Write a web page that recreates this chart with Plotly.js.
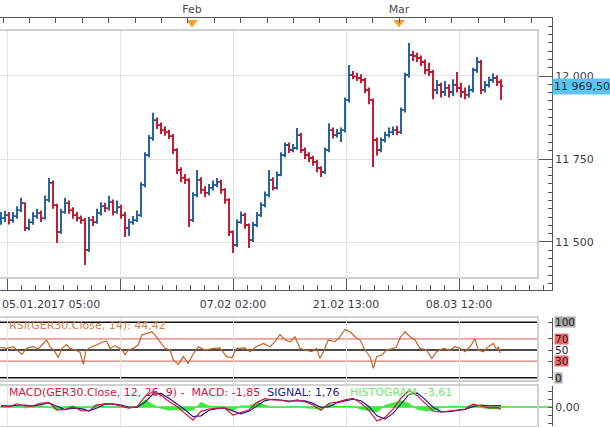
<!DOCTYPE html>
<html><head><meta charset="utf-8">
<script src="https://cdn.plot.ly/plotly-3.0.1.min.js"></script>
<style>html,body{margin:0;padding:0;background:#fff;}#chart{width:610px;height:427px;}</style>
</head><body><div id="chart"></div>
<script>
// ---- price bars (GER30, one bar per index) ----
const open = [11565,11572,11581,11566,11578,11596,11617,11542,11560,11578,
11587,11572,11627,11678,11611,11530,11590,11617,11596,11581,
11572,11566,11476,11566,11560,11587,11608,11602,11620,11590,
11605,11581,11542,11560,11566,11581,11672,11762,11813,11867,
11852,11837,11831,11819,11777,11717,11693,11687,11566,11642,
11687,11657,11648,11663,11672,11681,11657,11627,11530,11491,
11560,11581,11551,11506,11551,11581,11611,11642,11687,11663,
11702,11762,11792,11777,11783,11822,11777,11762,11753,11741,
11723,11711,11777,11837,11822,11828,11837,11928,12003,11998,
11994,11988,11958,11928,11807,11777,11807,11822,11831,11837,
11831,11898,12003,12063,12060,12054,12042,12018,12012,11958,
11973,11952,11964,11952,11973,11964,11952,11943,11958,12018,
12042,11958,11973,11988,11994,11982];
const high = [11590,11594,11590,11590,11608,11633,11620,11570,11590,11600,
11595,11640,11693,11685,11615,11600,11633,11625,11605,11590,
11580,11572,11575,11578,11600,11620,11618,11639,11628,11625,
11612,11590,11570,11578,11595,11680,11770,11822,11889,11875,
11860,11848,11838,11825,11782,11725,11705,11692,11650,11717,
11695,11668,11675,11685,11693,11688,11662,11632,11535,11568,
11592,11588,11556,11560,11590,11620,11652,11717,11695,11712,
11770,11800,11800,11795,11843,11828,11785,11770,11760,11748,
11728,11785,11858,11845,11840,11845,11935,12033,12015,12010,
12005,11995,11965,11932,11815,11815,11832,11845,11848,11850,
11905,12010,12099,12075,12070,12062,12050,12040,12018,11988,
11980,11985,11975,11990,12012,11980,11965,11972,12025,12057,
12048,11985,11998,12008,12002,11990];
const low = [11552,11560,11553,11558,11570,11590,11533,11535,11552,11570,
11560,11568,11620,11600,11497,11525,11585,11585,11570,11562,
11555,11431,11470,11548,11555,11580,11590,11595,11580,11585,
11570,11515,11518,11552,11560,11575,11665,11755,11805,11840,
11825,11820,11810,11765,11705,11680,11675,11545,11560,11635,
11645,11635,11640,11655,11665,11645,11615,11518,11467,11485,
11555,11540,11482,11500,11545,11575,11605,11635,11655,11658,
11698,11755,11768,11770,11778,11768,11750,11740,11730,11710,
11696,11705,11770,11812,11815,11801,11830,11920,11990,11985,
11978,11948,11915,11726,11760,11770,11800,11815,11822,11822,
11825,11890,11995,12045,12042,12030,12005,12000,11930,11945,
11935,11940,11935,11940,11950,11935,11930,11935,11950,12010,
11945,11950,11965,11980,11970,11928];
const close = [11572,11581,11566,11578,11596,11617,11542,11560,11578,11587,
11572,11627,11678,11611,11530,11590,11617,11596,11581,11572,
11566,11476,11566,11560,11587,11608,11602,11620,11590,11605,
11581,11542,11560,11566,11581,11672,11762,11813,11867,11852,
11837,11831,11819,11777,11717,11693,11687,11566,11642,11687,
11657,11648,11663,11672,11681,11657,11627,11530,11491,11560,
11581,11551,11506,11551,11581,11611,11642,11687,11663,11702,
11762,11792,11777,11783,11822,11777,11762,11753,11741,11723,
11711,11777,11837,11822,11828,11837,11928,12003,11998,11994,
11988,11958,11928,11807,11777,11807,11822,11831,11837,11831,
11898,12003,12063,12060,12054,12042,12018,12012,11958,11973,
11952,11964,11952,11973,11964,11952,11943,11958,12018,12042,
11958,11973,11988,11994,11982,11969.5];
const barIdx = close.map((_, i) => i);

// ---- RSI(14) ----
const rsiIdx = [-0.25,1.4,3.1,4.3,5.2,6.4,8.1,9.3,10.2,11.4,12.25,13.5,14.3,15.2,16.4,17.25,18.5,19.75,20.6,21.25,
22.7,23.9,25.2,26.4,27.25,28.5,29.75,30.6,31,31.8,33.1,34.3,35.2,36.4,37.7,38.5,39.75,41,42.25,43.1,
44.3,45.6,46.8,47.9,49.3,51,53.1,54.75,56.4,57.7,58.9,61,62.25,63.75,65.6,67.25,68.5,69.75,71,72.25,
73.5,74.75,76,77.7,78.9,79.75,80.6,81.8,83.5,84.75,86,87.25,88.5,89.75,91,92.25,93.1,93.9,95.2,96.4,
98.1,98.9,99.75,101,102.25,103.5,104.75,106.4,107.7,108.9,110.6,112.25,113.5,114.75,116,117.25,118.5,119.3,120.6,121.8,
123.1,123.9,124.3,124.75];
const rsiVal = [55,53,56,47,42,53,56,52,59,68,56,47,36,53,60,53,50,46,24,50,
56,59,64,66,53,58,53,47,41,50,53,59,77,80,83,77,65,53,50,32,
24,38,26,41,56,50,53,54,38,36,53,54,47,56,62,56,65,78,68,65,
74,53,50,47,53,35,47,68,65,74,87,83,74,68,50,38,17,38,41,50,
53,56,72,83,74,68,53,50,35,47,53,50,56,53,47,56,70,50,47,56,
62,50,56,44.42];
const rsiLevels = [0, 30, 50, 70, 100];

// ---- MACD(12,26,9) ----
const macdIdx = [0,2,4,6,8,10,12,14,16,18,20,22,24,26,28,30,32,34,36,38,
40,42,44,46,48,50,52,54,56,58,60,62,64,66,68,70,72,74,76,78,
80,82,84,86,88,90,92,94,96,98,100,102,104,106,108,110,112,114,116,118,
120,122,124,125];
const macdVal = [1.4,0.5,4,1,1.5,5,5.5,-3.5,-3,0.4,-4.5,-5,2.5,4.2,3.5,1,-1.3,0.4,13,19,
15,7,0.5,-8,-16.5,-5.5,-2.5,-1.5,-1.5,-10,-7,-3.5,5.8,10.5,8.8,8.5,6.5,8.8,6.5,2.5,
-4,4.7,6.2,9,10.8,4.8,-4.5,-17.5,-13,-3,11,20.5,14.5,4.5,-5,-6.5,-5.2,-3.2,-2.5,3.5,
1.5,-1,-0.8,-1.85];
const signalVal = [1.6,1.0,2.2,2.5,1.2,3.2,5.2,1,-3.2,-1.3,-2,-4.8,-1.2,3.4,3.9,2.3,0,-0.5,6,16,
17,11,4,-3.5,-12,-11,-4,-2,-1.5,-5.5,-8.5,-5.2,1,8,9.7,8.7,7.5,7.6,7.6,4.5,
-0.6,0.4,5.4,7.6,9.9,7.8,0.3,-11,-15.2,-8,4,15.7,17.5,9.5,-0.2,-5.7,-5.8,-4.2,-2.9,0.5,
2.5,1.5,1.6,1.76];
const histVal = [-0.2,-0.5,1.8,-1.5,0.3,1.8,0.3,-4.5,0.2,1.7,-2.5,-0.2,3.7,0.8,-0.4,-1.3,-1.3,0.9,9,3,
-2,-4,-3.5,-4.5,-4.5,6,1.5,0.5,0,-4.5,1.5,1.7,6,2.5,-0.9,-0.2,-1,1.2,-1.1,-2,
-3.4,4.3,0.8,1.4,0.9,-3,-4.8,-6.5,2.2,5,8,4.8,-3,-5,-4.8,-0.8,0.6,1,0.4,3,
-1,-2.5,-2.4,-3.61];
const macdTicks = [-20, -10, 0, 10, 20];
const macdTickText = ['', '', '0,00', '', ''];

// ---- axis labels ----
const gridIdx = [1.5, 29.75, 58, 86.25, 114.5];
const gridLabels = ['', '', '07.02 02:00', '21.02 13:00', '08.03 12:00'];
const firstLabel = '05.01.2017 05:00';
const monthIdx = [47.75, 99.5];
const monthLabels = ['Feb', 'Mar'];
const priceTicks = [11500, 11750, 12000];

// ---- layout helpers (pixels -> paper) ----
const W = 610, H = 427;
const px = v => v / W, py = v => 1 - v / H;
const FONT = 'DejaVu Sans';
const ptsPerPx = 500 / 166;
const frameY = [11355.4, 12174.7];
const boxY = [11394.6, 12135.5];
const xBox = [-0.25, 134.0];
const xFrame = [-0.25, 137.75];
const rsiRange = [-4.1, 107.8];
const macdRange = [-23.75, 26.25];
const axisCol = '#555';
const borderCol = '#d0d0d0';
const gridCol = '#e3e3e3';
const txtCol = '#3c3c48';

const last = close[close.length - 1];
const fmt = v => { const p = v.toFixed(2).split('.'); return p[0].replace(/\B(?=(\d{3})+(?!\d))/g, ' ') + ',' + p[1]; };
const rsiLast = rsiVal[rsiVal.length - 1];
const fmt2 = v => v.toFixed(2).replace('.', ',');

const traces = [
  {type:'scatter', x:[xFrame[0]], y:[frameY[0]], xaxis:'x', yaxis:'y', mode:'markers', marker:{opacity:0}, hoverinfo:'skip'},
  {type:'scatter', x:monthIdx, y:monthIdx.map(() => frameY[1] - 4.5 * ptsPerPx), xaxis:'x2', yaxis:'y', mode:'markers',
   marker:{symbol:'triangle-down', size:10, color:'#f2a22c'}, cliponaxis:false, hoverinfo:'skip'},
  {type:'ohlc', x:barIdx, open:open, high:high, low:low, close:close, xaxis:'x3', yaxis:'y3', tickwidth:0.5,
   line:{width:1.9}, increasing:{line:{color:'#1f5c9e', width:1.9}}, decreasing:{line:{color:'#c2142c', width:1.9}}, hoverinfo:'skip'},
  {type:'scatter', x:rsiIdx, y:rsiVal, xaxis:'x4', yaxis:'y4', mode:'lines', line:{color:'#c0652a', width:1.2}, hoverinfo:'skip'},
  {type:'scatter', x:[rsiIdx[0]], y:[rsiLevels[0]], xaxis:'x4', yaxis:'y5', mode:'markers', marker:{opacity:0}, hoverinfo:'skip'},
  {type:'scatter', x:macdIdx, y:histVal, xaxis:'x5', yaxis:'y6', mode:'lines', fill:'tozeroy', fillcolor:'#3bea3b',
   line:{color:'#3bea3b', width:0.5}, hoverinfo:'skip'},
  {type:'scatter', x:macdIdx, y:signalVal, xaxis:'x5', yaxis:'y6', mode:'lines', line:{color:'#1c1c8c', width:1.2}, hoverinfo:'skip'},
  {type:'scatter', x:macdIdx, y:macdVal, xaxis:'x5', yaxis:'y6', mode:'lines', line:{color:'#d4143c', width:1.2}, hoverinfo:'skip'},
  {type:'scatter', x:[macdIdx[0]], y:[macdTicks[2]], xaxis:'x5', yaxis:'y7', mode:'markers', marker:{opacity:0}, hoverinfo:'skip'}
];

const innerX = (anchor) => ({domain:[0, px(537)], range:xBox, anchor:anchor, showline:true, mirror:true, linecolor:borderCol, linewidth:2,
  tickmode:'array', tickvals:gridIdx, showticklabels:false, ticks:'', showgrid:true, gridcolor:gridCol, zeroline:false, fixedrange:true});

const rsiLabelBg = {0:'#a9a9a9', 30:'#ee6a6a', 50:'rgba(0,0,0,0)', 70:'#ee6a6a', 100:'#a9a9a9'};
const rsiLineCol = {0:'#111', 30:'#d85a50', 50:'#111', 70:'#d85a50', 100:'#111'};

const shapes = rsiLevels.map(l => ({type:'line', xref:'x4 domain', x0:0, x1:1, yref:'y4', y0:l, y1:l,
  line:{color:rsiLineCol[l], width:(l % 50 === 0) ? 1.5 : 1}, layer:'below'}));
shapes.push({type:'line', xref:'paper', x0:0, x1:px(552), yref:'y6', y0:macdTicks[2], y1:macdTicks[2], line:{color:'#3bdc3b', width:1.5}, layer:'below'});

const annotations = [
  {xref:'paper', yref:'paper', x:0, y:py(304), xanchor:'left', yanchor:'middle', text:firstLabel, showarrow:false, font:{family:FONT, size:11, color:txtCol}},
  {xref:'paper', yref:'y', x:px(552), y:last, xanchor:'left', yanchor:'middle', text:fmt(last), showarrow:false,
   bgcolor:'#5bc4f2', borderpad:1, font:{family:FONT, size:11, color:'#2a2a3a'}},
  {xref:'paper', yref:'paper', x:px(7), y:py(325), xanchor:'left', yanchor:'middle', text:'RSI(GER30.Close, 14): ' + fmt2(rsiLast), showarrow:false,
   font:{family:FONT, size:11, color:'#d4804a'}},
  {xref:'paper', yref:'paper', x:px(7), y:py(392), xanchor:'left', yanchor:'middle', showarrow:false, font:{family:FONT, size:11},
   text:'<span style="color:#d4143c">MACD(GER30.Close, 12, 26, 9) -\u00a0\u00a0MACD: ' + fmt2(macdVal[macdVal.length-1]) + '\u00a0</span>' +
        '<span style="color:#1c1c8c">\u00a0SIGNAL: ' + fmt2(signalVal[signalVal.length-1]) + '\u00a0\u00a0</span>' +
        '<span style="color:#6ee86e">\u00a0HISTOGRAM: ' + fmt2(histVal[histVal.length-1]) + '</span>'}
];
rsiLevels.forEach(l => annotations.push({xref:'paper', yref:'y5', x:px(554), y:l, xanchor:'left', yanchor:'middle', text:String(l),
  showarrow:false, bgcolor:rsiLabelBg[l], borderpad:0, height:10, font:{family:FONT, size:10.5, color:'#222'}}));

const layout = {
  width:W, height:H, margin:{l:0, r:0, t:0, b:0}, paper_bgcolor:'#fff', plot_bgcolor:'#fff', showlegend:false,
  separators:', ', font:{family:FONT, size:11, color:'#444'}, hovermode:false,
  xaxis:{domain:[0, px(552)], range:xFrame, anchor:'y', showline:true, linecolor:axisCol, linewidth:1, ticks:'inside',
    tickmode:'array', tickvals:gridIdx, ticktext:gridLabels, ticklen:12, tickcolor:axisCol, showgrid:false, zeroline:false,
    ticklabelstandoff:4, tickfont:{family:FONT, size:11, color:txtCol},
    minor:{tickmode:'linear', tick0:gridIdx[0], dtick:(gridIdx[1]-gridIdx[0])/8, ticks:'inside', ticklen:5, tickcolor:axisCol, showgrid:false},
    fixedrange:true},
  xaxis2:{overlaying:'x', side:'top', anchor:'y', range:xFrame, showline:true, linecolor:axisCol, ticks:'inside', ticklen:1,
    tickcolor:'rgba(0,0,0,0)', tickmode:'array', tickvals:monthIdx, ticktext:monthLabels, showgrid:false, zeroline:false,
    tickfont:{family:FONT, size:11, color:'#4a4a55'},
    minor:{tickmode:'linear', tick0:0.5, dtick:6.6, ticks:'inside', ticklen:5, tickcolor:axisCol, showgrid:false}, fixedrange:true},
  yaxis:{domain:[py(290), py(18)], range:frameY, anchor:'x', side:'right', showline:true, linecolor:axisCol, ticks:'inside',
    ticklen:15, tickcolor:axisCol, tickmode:'array', tickvals:priceTicks, tickformat:',.0f', showgrid:false, zeroline:false,
    tickfont:{family:FONT, size:11, color:txtCol},
    minor:{tickmode:'linear', tick0:priceTicks[0], dtick:25, ticks:'inside', ticklen:4, tickcolor:axisCol, showgrid:false}, fixedrange:true},
  xaxis3:Object.assign(innerX('y3'), {rangeslider:{visible:false}}),
  yaxis3:{domain:[py(277), py(31)], range:boxY, anchor:'x3', showline:true, mirror:true, linecolor:borderCol, linewidth:2,
    tickmode:'array', tickvals:priceTicks, showticklabels:false, ticks:'', showgrid:true, gridcolor:gridCol, zeroline:false, fixedrange:true},
  xaxis4:innerX('y4'),
  yaxis4:{domain:[py(380), py(318)], range:rsiRange, anchor:'x4', showline:true, mirror:true, linecolor:borderCol, linewidth:2,
    showticklabels:false, ticks:'', showgrid:false, zeroline:false, fixedrange:true},
  yaxis5:{overlaying:'y4', anchor:'free', position:px(552), side:'right', range:rsiRange, showline:true, linecolor:axisCol,
    ticks:'inside', ticklen:4, tickcolor:axisCol, tickmode:'array', tickvals:rsiLevels, showticklabels:false, showgrid:false, zeroline:false, fixedrange:true},
  xaxis5:innerX('y6'),
  yaxis6:{domain:[py(426), py(386)], range:macdRange, anchor:'x5', showline:true, mirror:true, linecolor:borderCol, linewidth:2,
    showticklabels:false, ticks:'', showgrid:false, zeroline:false, fixedrange:true},
  yaxis7:{overlaying:'y6', anchor:'free', position:px(552), side:'right', range:macdRange, showline:true, linecolor:axisCol,
    ticks:'inside', ticklen:4, tickcolor:axisCol, tickmode:'array', tickvals:macdTicks, ticktext:macdTickText,
    tickfont:{family:FONT, size:11, color:txtCol}, showgrid:false, zeroline:false, fixedrange:true},
  shapes:shapes, annotations:annotations
};

Plotly.newPlot('chart', traces, layout, {staticPlot:true, displayModeBar:false});
</script></body></html>
